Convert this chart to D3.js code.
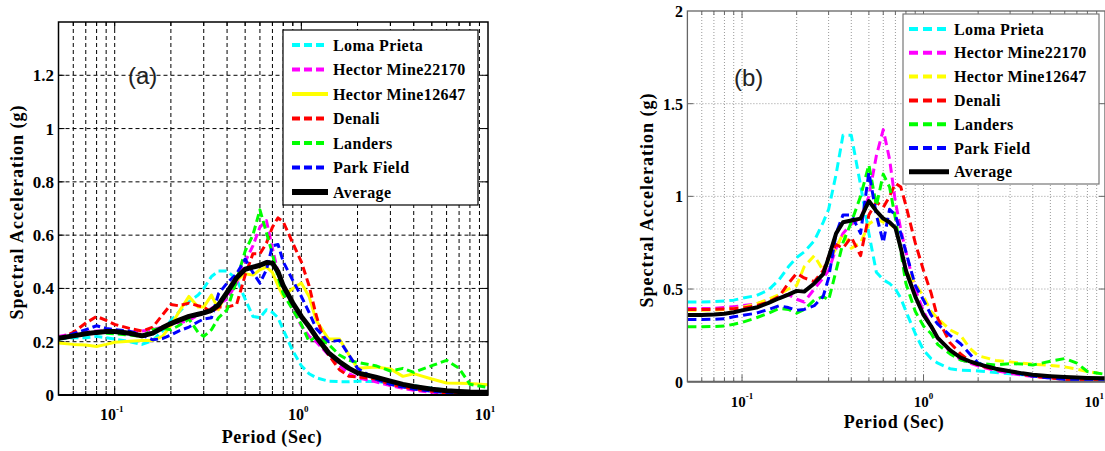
<!DOCTYPE html>
<html>
<head>
<meta charset="utf-8">
<script src="https://cdn.jsdelivr.net/npm/d3@7/dist/d3.min.js"></script>
<style>
  body { margin: 0; background: #fff; }
  svg { display: block; }
  .serif { font-family: "Liberation Serif", "Times New Roman", serif; font-weight: bold; }
</style>
</head>
<body>
<svg width="1105" height="451"></svg>
<script>
// periods (sec) shared by every curve
const periods = [0.05, 0.06, 0.07, 0.08, 0.09, 0.1, 0.12, 0.14, 0.16, 0.18, 0.2, 0.22, 0.25, 0.28, 0.3,
  0.33, 0.36, 0.4, 0.45, 0.5, 0.55, 0.6, 0.65, 0.7, 0.75, 0.8, 0.9, 1.0, 1.1, 1.2, 1.4, 1.6, 1.8, 2.0,
  2.5, 3, 3.5, 4, 5, 6, 7, 8, 10];

const names = ["Loma Prieta", "Hector Mine22170", "Hector Mine12647", "Denali", "Landers", "Park Field", "Average"];
const colors = ["#00ffff", "#ff00ff", "#ffff00", "#ff0000", "#00ff00", "#0000ff", "#000000"];

// panel (a)
const lomaA = [0.21, 0.215, 0.215, 0.22, 0.215, 0.21, 0.2, 0.19, 0.205, 0.24, 0.28, 0.31, 0.35, 0.375, 0.40,
  0.445, 0.465, 0.465, 0.435, 0.36, 0.295, 0.29, 0.32, 0.31, 0.29, 0.245, 0.165, 0.11, 0.08, 0.065, 0.052,
  0.05, 0.05, 0.052, 0.05, 0.045, 0.04, 0.035, 0.025, 0.018, 0.014, 0.012, 0.01];
const hector22170A = [0.22, 0.23, 0.235, 0.24, 0.24, 0.24, 0.235, 0.24, 0.245, 0.255, 0.265, 0.27, 0.28, 0.3, 0.31,
  0.325, 0.34, 0.36, 0.42, 0.5, 0.56, 0.63, 0.655, 0.55, 0.46, 0.39, 0.32, 0.26, 0.22, 0.2, 0.15,
  0.11, 0.08, 0.065, 0.05, 0.035, 0.025, 0.018, 0.01, 0.005, 0.003, 0.002, 0.002];
const hector12647A = [0.195, 0.19, 0.188, 0.182, 0.19, 0.198, 0.202, 0.205, 0.205, 0.22, 0.26, 0.31, 0.37, 0.33, 0.33,
  0.375, 0.32, 0.39, 0.43, 0.455, 0.45, 0.47, 0.48, 0.46, 0.41, 0.37, 0.4, 0.42, 0.37, 0.28, 0.21,
  0.21, 0.15, 0.10, 0.105, 0.098, 0.07, 0.08, 0.06, 0.045, 0.044, 0.043, 0.038];
const denaliA = [0.21, 0.235, 0.27, 0.295, 0.28, 0.265, 0.25, 0.24, 0.255, 0.3, 0.34, 0.335, 0.345, 0.335, 0.33,
  0.31, 0.33, 0.33, 0.34, 0.45, 0.53, 0.53, 0.57, 0.63, 0.665, 0.65, 0.57, 0.5, 0.41, 0.30, 0.15,
  0.095, 0.07, 0.068, 0.06, 0.04, 0.03, 0.022, 0.014, 0.007, 0.004, 0.003, 0.002];
const landersA = [0.21, 0.22, 0.23, 0.235, 0.232, 0.23, 0.225, 0.22, 0.245, 0.25, 0.245, 0.26, 0.285, 0.235, 0.22,
  0.245, 0.29, 0.32, 0.43, 0.54, 0.6, 0.695, 0.61, 0.53, 0.44, 0.38, 0.32, 0.265, 0.2, 0.22, 0.19,
  0.15, 0.13, 0.122, 0.11, 0.09, 0.1, 0.085, 0.11, 0.13, 0.1, 0.04, 0.028];
const parkA = [0.21, 0.23, 0.245, 0.26, 0.25, 0.245, 0.24, 0.225, 0.207, 0.212, 0.225, 0.24, 0.255, 0.275, 0.285,
  0.29, 0.38, 0.42, 0.455, 0.51, 0.46, 0.42, 0.47, 0.56, 0.565, 0.5, 0.43, 0.37, 0.31, 0.25, 0.2,
  0.205, 0.15, 0.1, 0.06, 0.04, 0.03, 0.022, 0.014, 0.008, 0.006, 0.004, 0.003];
const averageA = [0.213, 0.222, 0.23, 0.235, 0.238, 0.238, 0.232, 0.222, 0.232, 0.252, 0.268, 0.28, 0.295, 0.303, 0.308,
  0.318, 0.338, 0.385, 0.44, 0.472, 0.48, 0.487, 0.497, 0.495, 0.462, 0.41, 0.345, 0.295, 0.257, 0.218, 0.158,
  0.125, 0.10, 0.083, 0.067, 0.052, 0.04, 0.032, 0.022, 0.016, 0.013, 0.011, 0.01];

// panel (b)
const lomaB = [0.43, 0.43, 0.432, 0.435, 0.44, 0.45, 0.465, 0.495, 0.55, 0.62, 0.67, 0.7, 0.76, 0.86, 0.93,
  1.12, 1.33, 1.33, 1.06, 0.8, 0.59, 0.55, 0.53, 0.5, 0.45, 0.38, 0.26, 0.17, 0.125, 0.1, 0.07,
  0.062, 0.06, 0.058, 0.05, 0.043, 0.038, 0.033, 0.028, 0.024, 0.02, 0.018, 0.015];
const hector22170B = [0.395, 0.395, 0.395, 0.4, 0.405, 0.41, 0.42, 0.44, 0.46, 0.47, 0.445, 0.43, 0.5, 0.56, 0.6,
  0.72, 0.8, 0.85, 0.88, 1.0, 1.22, 1.36, 1.2, 0.97, 0.82, 0.7, 0.5, 0.38, 0.3, 0.24, 0.16,
  0.12, 0.1, 0.085, 0.06, 0.045, 0.035, 0.028, 0.02, 0.015, 0.012, 0.01, 0.008];
const hector12647B = [0.385, 0.385, 0.387, 0.39, 0.395, 0.4, 0.42, 0.445, 0.47, 0.5, 0.52, 0.62, 0.68, 0.6, 0.65,
  0.72, 0.8, 0.72, 0.75, 0.85, 0.88, 0.86, 0.85, 0.83, 0.72, 0.6, 0.53, 0.46, 0.38, 0.34, 0.28,
  0.25, 0.18, 0.14, 0.115, 0.107, 0.1, 0.095, 0.088, 0.08, 0.068, 0.055, 0.04];
const denaliB = [0.39, 0.39, 0.39, 0.392, 0.394, 0.397, 0.41, 0.43, 0.46, 0.53, 0.585, 0.56, 0.54, 0.6, 0.675,
  0.74, 0.72, 0.78, 0.68, 0.9, 0.97, 0.94, 1.0, 1.07, 1.05, 0.95, 0.75, 0.6, 0.48, 0.34, 0.21,
  0.15, 0.11, 0.09, 0.065, 0.055, 0.04, 0.03, 0.02, 0.012, 0.01, 0.008, 0.007];
const landersB = [0.297, 0.297, 0.298, 0.3, 0.31, 0.32, 0.345, 0.37, 0.395, 0.39, 0.37, 0.39, 0.44, 0.46, 0.44,
  0.6, 0.75, 0.86, 1.0, 1.17, 0.95, 1.12, 1.05, 0.88, 0.7, 0.53, 0.38, 0.3, 0.26, 0.2, 0.15,
  0.117, 0.105, 0.1, 0.09, 0.098, 0.095, 0.09, 0.11, 0.125, 0.1, 0.055, 0.04];
const parkB = [0.335, 0.335, 0.337, 0.34, 0.35, 0.357, 0.37, 0.39, 0.41, 0.4, 0.385, 0.39, 0.41, 0.46, 0.56,
  0.8, 0.9, 0.9, 0.8, 1.13, 0.9, 0.75, 0.93, 0.9, 0.8, 0.7, 0.52, 0.44, 0.36, 0.31, 0.25,
  0.205, 0.15, 0.1, 0.07, 0.055, 0.04, 0.03, 0.02, 0.012, 0.009, 0.008, 0.007];
const averageB = [0.36, 0.36, 0.362, 0.367, 0.375, 0.385, 0.4, 0.425, 0.45, 0.47, 0.49, 0.486, 0.53, 0.58, 0.67,
  0.8, 0.86, 0.87, 0.88, 0.975, 0.92, 0.88, 0.86, 0.83, 0.72, 0.6, 0.46, 0.36, 0.3, 0.235, 0.17,
  0.13, 0.11, 0.095, 0.07, 0.056, 0.045, 0.038, 0.03, 0.025, 0.022, 0.02, 0.018];

const xDomain = [0.05, 10];
const xTickValues = [0.1, 1, 10];
const xTickExponents = ["-1", "0", "1"];
const yTicksA = [0, 0.2, 0.4, 0.6, 0.8, 1, 1.2];
const yTicksB = [0, 0.5, 1, 1.5, 2];

const svg = d3.select("svg");

function makeSeries(values, dashed, solidWidth) {
  return names.map(function(name, i) {
    const isAvg = i === names.length - 1;
    return {
      name: name,
      color: colors[i],
      values: values[i],
      dash: (isAvg || !dashed[i]) ? null : dashed[i],
      width: isAvg ? solidWidth : 3
    };
  });
}

const panels = [
  {
    id: "a", label: "(a)", labelX: 128, labelY: 84,
    left: 58.5, right: 488, top: 22, bottom: 395, yMax: 1.4, yTicks: yTicksA,
    frame: "#000", frameWidth: 1.5, grid: "#000", gridDash: "4,3", gridWidth: 1,
    tickFont: 17, yTickX: 54, xTickY: 420, xTickShift: -3, clampLastTick: false,
    yTitleX: 23, yTitleY: 212, xTitleX: 272, xTitleY: 443,
    series: makeSeries([lomaA, hector22170A, hector12647A, denaliA, landersA, parkA, averageA],
      ["8,4", "8,4", null, "8,4", "8,4", "8,4", null], 5),
    legend: { x: 283, y: 30, w: 195, h: 175, x1: 292, x2: 328, tx: 333, row0: 45, step: 24.5, stroke: "#000" }
  },
  {
    id: "b", label: "(b)", labelX: 734, labelY: 86,
    left: 687.4, right: 1105, top: 11, bottom: 381.7, yMax: 2, yTicks: yTicksB,
    frame: "#666", frameWidth: 1.3, grid: "#999", gridDash: "1,2", gridWidth: 1,
    tickFont: 16, yTickX: 683, xTickY: 407, xTickShift: 0, clampLastTick: true,
    yTitleX: 653, yTitleY: 200, xTitleX: 894, xTitleY: 428,
    series: makeSeries([lomaB, hector22170B, hector12647B, denaliB, landersB, parkB, averageB],
      ["9,5", "9,5", "9,5", "9,5", "9,5", "9,5", null], 4),
    legend: { x: 903, y: 14, w: 196, h: 170, x1: 909, x2: 949, tx: 954, row0: 29, step: 23.8, stroke: "#777" }
  }
];

function drawPanel(p) {
  const x = d3.scaleLog().domain(xDomain).range([p.left, p.right]);
  const y = d3.scaleLinear().domain([0, p.yMax]).range([p.bottom, p.top]);
  const g = svg.append("g").attr("class", "panel-" + p.id);

  svg.append("clipPath").attr("id", "clip-" + p.id)
    .append("rect")
    .attr("x", p.left).attr("y", p.top)
    .attr("width", p.right - p.left).attr("height", p.bottom - p.top);

  // grid lines
  const xGrid = x.ticks().filter(function(v) { return v > xDomain[0] * 1.001 && v < xDomain[1] * 0.999; });
  g.selectAll("line.vgrid").data(xGrid).join("line")
    .attr("class", "vgrid")
    .attr("x1", function(d) { return x(d); }).attr("x2", function(d) { return x(d); })
    .attr("y1", p.top).attr("y2", p.bottom)
    .attr("stroke", p.grid).attr("stroke-width", p.gridWidth)
    .attr("stroke-dasharray", p.gridDash);

  const yGrid = p.yTicks.filter(function(v) { return v > 0 && v < p.yMax; });
  g.selectAll("line.hgrid").data(yGrid).join("line")
    .attr("class", "hgrid")
    .attr("x1", p.left).attr("x2", p.right)
    .attr("y1", function(d) { return y(d); }).attr("y2", function(d) { return y(d); })
    .attr("stroke", p.grid).attr("stroke-width", p.gridWidth)
    .attr("stroke-dasharray", p.gridDash);

  // inner ticks
  g.selectAll("line.xt").data(xGrid.concat(xGrid)).join("line")
    .attr("class", "xt")
    .attr("x1", function(d) { return x(d); }).attr("x2", function(d) { return x(d); })
    .attr("y1", function(d, i) { return i < xGrid.length ? p.bottom : p.top; })
    .attr("y2", function(d, i) {
      const len = xTickValues.indexOf(d) >= 0 ? 7 : 4;
      return i < xGrid.length ? p.bottom - len : p.top + len;
    })
    .attr("stroke", p.frame).attr("stroke-width", 1);

  g.selectAll("line.yt").data(yGrid.concat(yGrid)).join("line")
    .attr("class", "yt")
    .attr("y1", function(d) { return y(d); }).attr("y2", function(d) { return y(d); })
    .attr("x1", function(d, i) { return i < yGrid.length ? p.left : p.right; })
    .attr("x2", function(d, i) { return i < yGrid.length ? p.left + 6 : p.right - 6; })
    .attr("stroke", p.frame).attr("stroke-width", 1);

  // curves
  const line = d3.line()
    .x(function(d) { return x(d[0]); })
    .y(function(d) { return y(d[1]); });

  g.append("g").attr("clip-path", "url(#clip-" + p.id + ")")
    .selectAll("path").data(p.series).join("path")
    .attr("d", function(s) { return line(periods.map(function(t, i) { return [t, s.values[i]]; })); })
    .attr("fill", "none")
    .attr("stroke", function(s) { return s.color; })
    .attr("stroke-width", function(s) { return s.width; })
    .attr("stroke-dasharray", function(s) { return s.dash; })
    .attr("stroke-linejoin", "round");

  // frame
  g.append("rect")
    .attr("x", p.left).attr("y", p.top)
    .attr("width", p.right - p.left).attr("height", p.bottom - p.top)
    .attr("fill", "none").attr("stroke", p.frame).attr("stroke-width", p.frameWidth);
  g.append("line")
    .attr("x1", p.left).attr("x2", p.right).attr("y1", p.bottom).attr("y2", p.bottom)
    .attr("stroke", p.frame).attr("stroke-width", p.frameWidth + 0.7);

  // y tick labels
  g.selectAll("text.ytl").data(p.yTicks).join("text")
    .attr("class", "ytl serif")
    .attr("x", p.yTickX)
    .attr("y", function(d) { return y(d) + 6; })
    .attr("text-anchor", "end")
    .attr("font-size", p.tickFont)
    .text(function(d) { return String(d); });

  // x tick labels with superscript exponent
  const lastIndex = xTickValues.length - 1;
  const xtl = g.selectAll("text.xtl").data(xTickValues).join("text")
    .attr("class", "xtl serif")
    .attr("x", function(d, i) {
      return (p.clampLastTick && i === lastIndex) ? p.right - 1 : x(d) + p.xTickShift;
    })
    .attr("y", p.xTickY)
    .attr("text-anchor", function(d, i) {
      return (p.clampLastTick && i === lastIndex) ? "end" : "middle";
    })
    .attr("font-size", p.tickFont - 1);
  xtl.append("tspan").text("10");
  xtl.append("tspan")
    .attr("dy", -8)
    .attr("font-size", 9)
    .text(function(d, i) { return xTickExponents[i]; });

  // axis titles
  g.append("text")
    .attr("class", "serif")
    .attr("transform", "translate(" + p.yTitleX + "," + p.yTitleY + ") rotate(-90)")
    .attr("text-anchor", "middle")
    .attr("font-size", 18)
    .attr("letter-spacing", 1)
    .text("Spectral Acceleration (g)");

  g.append("text")
    .attr("class", "serif")
    .attr("x", p.xTitleX).attr("y", p.xTitleY)
    .attr("text-anchor", "middle")
    .attr("font-size", 18)
    .attr("letter-spacing", 0.6)
    .text("Period (Sec)");

  // panel letter
  g.append("text")
    .attr("x", p.labelX).attr("y", p.labelY)
    .attr("font-family", "'Liberation Sans', Arial, sans-serif")
    .attr("font-size", 24)
    .attr("fill", "#222")
    .text(p.label);

  // legend
  const L = p.legend;
  const lg = g.append("g").attr("class", "legend");
  lg.append("rect")
    .attr("x", L.x).attr("y", L.y).attr("width", L.w).attr("height", L.h)
    .attr("fill", "#fff").attr("stroke", L.stroke).attr("stroke-width", 1.2);

  const rows = lg.selectAll("g.row").data(p.series).join("g")
    .attr("class", "row")
    .attr("transform", function(d, i) { return "translate(0," + (L.row0 + i * L.step) + ")"; });

  rows.append("line")
    .attr("x1", L.x1).attr("x2", L.x2)
    .attr("stroke", function(d) { return d.color; })
    .attr("stroke-width", function(d) { return d.width + 1; })
    .attr("stroke-dasharray", function(d) { return d.dash; });

  rows.append("text")
    .attr("class", "serif")
    .attr("x", L.tx).attr("y", 5.5)
    .attr("font-size", 16)
    .attr("letter-spacing", 0.4)
    .text(function(d) { return d.name; });
}

panels.forEach(drawPanel);
</script>
</body>
</html>
